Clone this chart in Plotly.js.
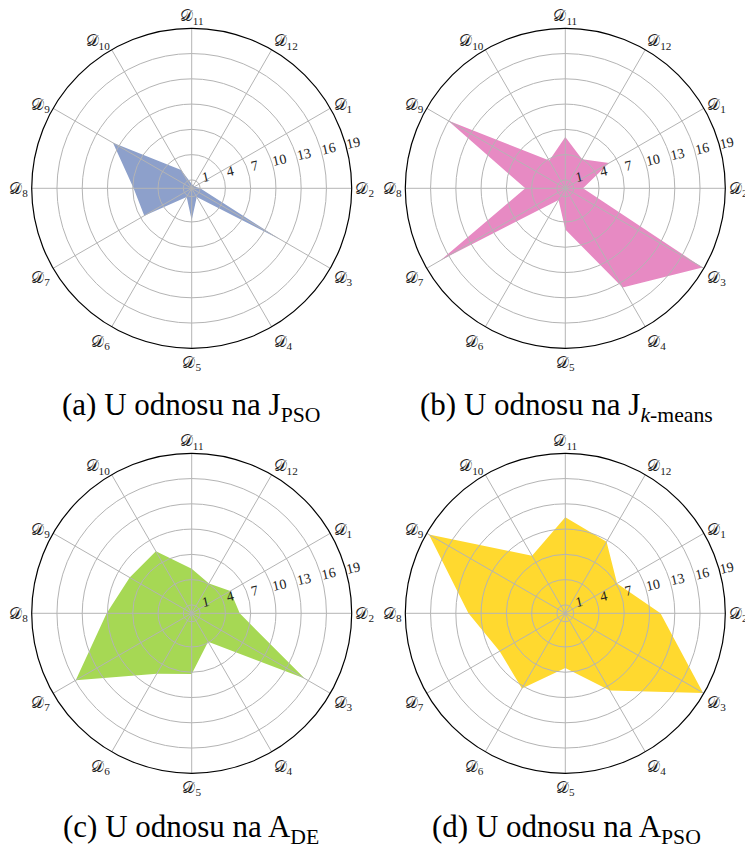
<!DOCTYPE html>
<html>
<head>
<meta charset="utf-8">
<script src="https://cdn.plot.ly/plotly-3.0.1.min.js"></script>
<style>html,body{margin:0;padding:0;background:#fff;}#chart{width:745px;height:849px;}</style>
</head>
<body>
<div id="chart"></div>
<script>
// Categories (datasets D1..D12)
const categories = ["𝒟<sub>1</sub>","𝒟<sub>2</sub>","𝒟<sub>3</sub>","𝒟<sub>4</sub>","𝒟<sub>5</sub>","𝒟<sub>6</sub>",
                    "𝒟<sub>7</sub>","𝒟<sub>8</sub>","𝒟<sub>9</sub>","𝒟<sub>10</sub>","𝒟<sub>11</sub>","𝒟<sub>12</sub>"];
// Series values (ranks) per panel
const valuesJPSO    = [0.4, 1.0, 12.2, 1.2, 3.8, 1.2, 6.5, 6.9, 10.8, 2.5, 0.5, 0.4];
const valuesJKmeans = [6.0, 2.1, 18.8, 13.6, 4.9, 1.6, 17.1, 4.75, 16.1, 3.8, 6.1, 4.0];
const valuesADE     = [5.3, 5.7, 15.5, 3.9, 7.2, 8.3, 15.9, 10.1, 8.5, 8.5, 5.3, 4.1];
const valuesAPSO    = [7.1, 11.3, 18.9, 10.6, 6.5, 10.3, 9.0, 11.5, 18.7, 7.9, 11.4, 9.8];
// Radial ticks
const radialTicks = [1, 4, 7, 10, 13, 16, 19];
// Captions
const captions = ["(a) U odnosu na J<sub>PSO</sub>", "(b) U odnosu na J<sub><i>k</i>-means</sub>",
                  "(c) U odnosu na A<sub>DE</sub>", "(d) U odnosu na A<sub>PSO</sub>"];

const series = [valuesJPSO, valuesJKmeans, valuesADE, valuesAPSO];
const colors = ["#8DA0CB", "#E78AC3", "#A6D854", "#FFD92F"];
const W = 745, H = 849, R = 160;
const rMax = 19, labShift = 0.9;
const centers = [[191.7,188.3],[565.3,188.3],[191.7,613.3],[565.3,613.3]];
const capPos = [[191,407],[566,407],[191,829],[566,829]];

const traces = [];
const layout = {
  width: W, height: H, margin: {l:0,r:0,t:0,b:0},
  paper_bgcolor: "#fff", showlegend: false, annotations: []
};
const serif = "Liberation Serif, DejaVu Serif, serif";
const gridColor = "#b4b4b4";

series.forEach((vals, i) => {
  const dataId = i === 0 ? "polar" : "polar" + (i + 1);
  const gridId = "polar" + (i + 5);
  const labId = "polar" + (i + 9);
  const [cx, cy] = centers[i];
  const dom = {x: [(cx - R)/W, (cx + R)/W], y: [1 - (cy + R)/H, 1 - (cy - R)/H]};
  // label subplot: same scale, radial labels drawn slightly outward of each circle
  const RL = R * (rMax + labShift) / rMax;
  const domL = {x: [(cx - RL)/W, (cx + RL)/W], y: [1 - (cy + RL)/H, 1 - (cy - RL)/H]};
  traces.push({
    type: "scatterpolar", subplot: dataId,
    r: vals.concat([vals[0]]), theta: categories.concat([categories[0]]),
    mode: "lines", fill: "toself", fillcolor: colors[i],
    line: {width: 0, color: colors[i]}, hoverinfo: "skip"
  });
  traces.push({type: "scatterpolar", subplot: gridId, r: [], theta: [], mode: "markers", hoverinfo: "skip"});
  traces.push({type: "scatterpolar", subplot: labId, r: [], theta: [], mode: "markers", hoverinfo: "skip"});
  const angBase = {type: "category", categoryarray: categories, direction: "clockwise", rotation: 30};
  const hiddenAng = Object.assign({}, angBase, {showgrid: false, showline: false, showticklabels: false, ticks: ""});
  layout[dataId] = {
    domain: dom, bgcolor: "rgba(0,0,0,0)",
    radialaxis: {range: [0, rMax], showgrid: false, showline: false, showticklabels: false, ticks: ""},
    angularaxis: hiddenAng
  };
  layout[gridId] = {
    domain: dom, bgcolor: "rgba(0,0,0,0)",
    radialaxis: {range: [0, rMax], tickvals: radialTicks, showticklabels: false,
      showline: false, ticks: "", gridcolor: gridColor, gridwidth: 1},
    angularaxis: Object.assign({}, angBase, {showline: true, linecolor: "#000", linewidth: 1.2,
      gridcolor: gridColor, gridwidth: 1, ticks: "",
      tickfont: {family: serif, size: 16, color: "#222"}})
  };
  layout[labId] = {
    domain: domL, bgcolor: "rgba(0,0,0,0)",
    radialaxis: {range: [-labShift, rMax], tickvals: radialTicks, angle: 13, side: "counterclockwise",
      showgrid: false, showline: false, ticks: "",
      tickfont: {family: serif, size: 14, color: "#222"}},
    angularaxis: hiddenAng
  };
  layout.annotations.push({
    text: captions[i], xref: "paper", yref: "paper",
    x: capPos[i][0]/W, y: 1 - capPos[i][1]/H, xanchor: "center", yanchor: "middle",
    showarrow: false, font: {family: serif, size: 31, color: "#000"}
  });
});

Plotly.newPlot("chart", traces, layout, {staticPlot: true});
</script>
</body>
</html>
